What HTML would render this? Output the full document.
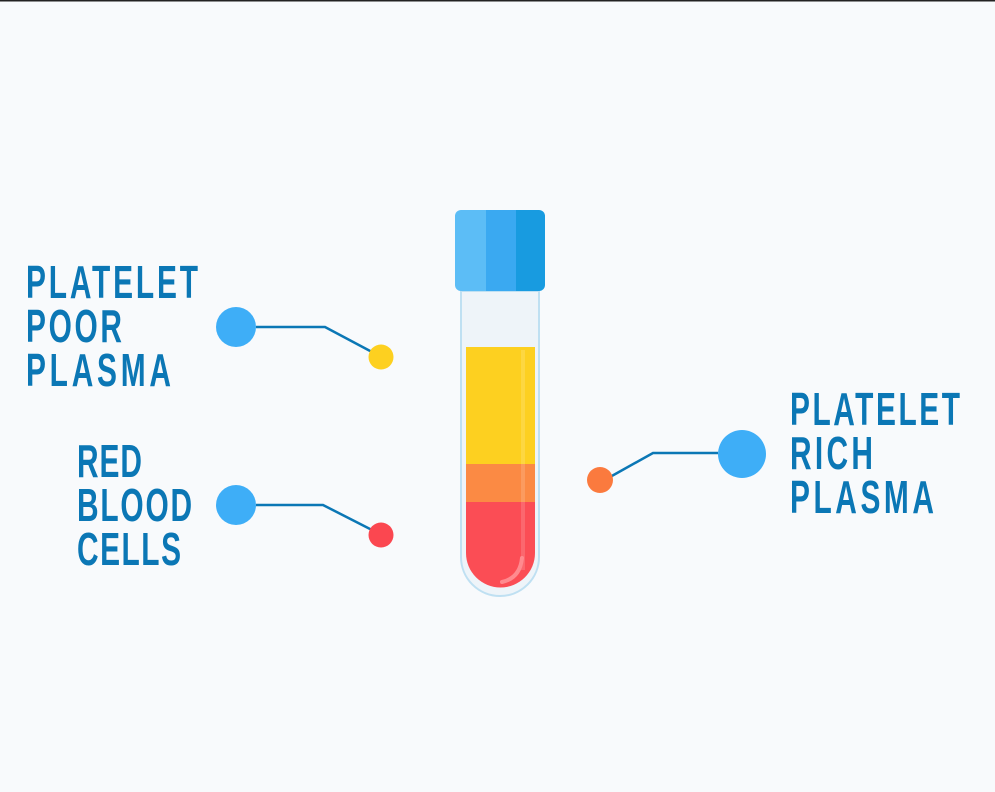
<!DOCTYPE html>
<html><head><meta charset="utf-8"><style>
html,body{margin:0;padding:0;background:#f8fafc;}
svg{display:block;}
text{font-family:"Liberation Sans",sans-serif;font-weight:bold;fill:#0b77b5;font-size:46px;}
</style></head><body>
<svg width="995" height="792" viewBox="0 0 995 792" xmlns="http://www.w3.org/2000/svg">
<rect width="995" height="792" fill="#f8fafc"/>
<rect width="995" height="1.5" fill="#222"/>
<g transform="scale(0.65,1)">
<text x="40" y="298" textLength="264.6" lengthAdjust="spacing">PLATELET</text>
<text x="40" y="342" textLength="147.7" lengthAdjust="spacing">POOR</text>
<text x="40" y="386" textLength="223" lengthAdjust="spacing">PLASMA</text>
<text x="118.5" y="477" textLength="100" lengthAdjust="spacing">RED</text>
<text x="118.5" y="521" textLength="177" lengthAdjust="spacing">BLOOD</text>
<text x="118.5" y="565" textLength="160" lengthAdjust="spacing">CELLS</text>
<text x="1215.4" y="425" textLength="261.5" lengthAdjust="spacing">PLATELET</text>
<text x="1215.4" y="469" textLength="127.7" lengthAdjust="spacing">RICH</text>
<text x="1215.4" y="513" textLength="221.5" lengthAdjust="spacing">PLASMA</text>
</g>
<polyline points="256,327 325,327 372,352" fill="none" stroke="#0b77b5" stroke-width="2.5"/>
<circle cx="236" cy="327" r="20" fill="#3eaef7"/>
<circle cx="381" cy="357" r="12.5" fill="#fdd020"/>
<polyline points="256,505 323,505 372,530" fill="none" stroke="#0b77b5" stroke-width="2.5"/>
<circle cx="236" cy="505" r="20" fill="#3eaef7"/>
<circle cx="381" cy="535" r="12.5" fill="#fb4750"/>
<polyline points="718,453 653,453 610,477" fill="none" stroke="#0b77b5" stroke-width="2.5"/>
<circle cx="742" cy="454" r="24" fill="#3eaef7"/>
<circle cx="600" cy="480" r="13" fill="#fb7a3e"/>
<defs><clipPath id="tc"><path d="M466,291 V553 a34.5,34.5 0 0 0 69,0 V291 Z"/></clipPath></defs>
<path d="M461,291 V557 a39,39 0 0 0 78,0 V291 Z" fill="#eef4f9" stroke="#bfe0f2" stroke-width="2"/>
<g clip-path="url(#tc)">
<rect x="466" y="347" width="69" height="117" fill="#fdd020"/>
<rect x="466" y="464" width="69" height="38" fill="#fb8a44"/>
<rect x="466" y="502" width="69" height="100" fill="#fb4d55"/>
<rect x="521" y="350" width="4" height="220" fill="#ffffff" opacity="0.15"/>
</g>
<path d="M522,558 q-2,20 -20,24" fill="none" stroke="#ff8a8f" stroke-width="4" stroke-linecap="round"/>
<clipPath id="cc"><rect x="455" y="210" width="90" height="81" rx="6"/></clipPath>
<g clip-path="url(#cc)">
<rect x="455" y="210" width="31" height="81" fill="#5cbdf6"/>
<rect x="486" y="210" width="30" height="81" fill="#3aa9f1"/>
<rect x="516" y="210" width="29" height="81" fill="#189be0"/>
</g>
</svg>
</body></html>
